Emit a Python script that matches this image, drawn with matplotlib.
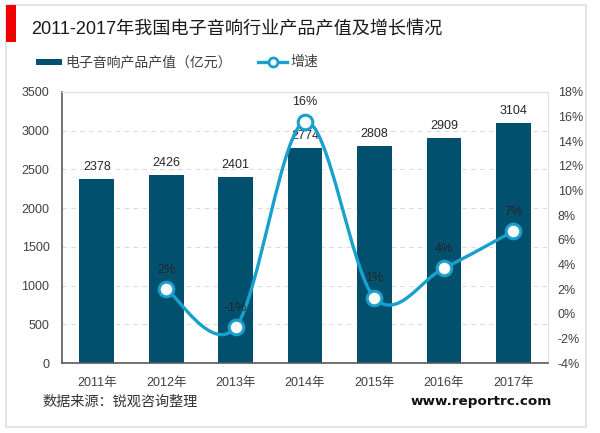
import matplotlib.pyplot as plt
from matplotlib.patches import Rectangle, PathPatch
from matplotlib.path import Path

# -------------------------
# DATA
# -------------------------

YEARS = ["2011年","2012年","2013年","2014年","2015年","2016年","2017年"]
OUTPUT = [2378,2426,2401,2774,2808,2909,3104]
GROWTH = [2.0,-1.1,15.6,1.3,3.7,6.7]
GROWTH_LABELS = ["2%","-1%","16%","1%","4%","7%"]
LEFT_TICKS = [0,500,1000,1500,2000,2500,3000,3500]
RIGHT_TICKS = [-4,-2,0,2,4,6,8,10,12,14,16,18]

W = 600
H = 433

plt.rcParams["font.family"] = ["Liberation Sans","Noto Sans CJK SC","DejaVu Sans"]

# -------------------------
# SMOOTH LINE
# -------------------------

def smooth_path(xs, ys):
    verts = [(xs[0],ys[0])]
    codes = [Path.MOVETO]
    n = len(xs)
    for i in range(n-1):
        x0,y0 = (xs[i-1],ys[i-1]) if i>0 else (xs[i],ys[i])
        x3,y3 = (xs[i+2],ys[i+2]) if i+2<n else (xs[i+1],ys[i+1])
        c1 = (xs[i]+(xs[i+1]-x0)/6, ys[i]+(ys[i+1]-y0)/6)
        c2 = (xs[i+1]-(x3-xs[i])/6, ys[i+1]-(y3-ys[i])/6)
        verts += [c1,c2,(xs[i+1],ys[i+1])]
        codes += [Path.CURVE4,Path.CURVE4,Path.CURVE4]
    return Path(verts,codes)

# -------------------------
# VISUALIZATION
# -------------------------

def draw_frame(fig):
    # outer border and red mark, in pixels from the top left
    fig.add_artist(Rectangle((6/W,1-427/H),580/W,422/H,transform=fig.transFigure,facecolor="white",edgecolor="#e4e4e4",linewidth=1.5,zorder=-2))
    fig.add_artist(Rectangle((6/W,1-42/H),10/W,37/H,transform=fig.transFigure,facecolor="#f00000",edgecolor="none",zorder=-1))
    fig.text(31/W,1-30/H,"2011-2017年我国电子音响行业产品产值及增长情况",fontsize=13.05,color="#1a1a1a",va="center")
    fig.text(42/W,1-402/H,"数据来源：锐观咨询整理",fontsize=10.2,color="#333333",va="center")
    fig.text(411/W,1-402/H,"www.reportrc.com",fontsize=9.7,fontweight="bold",family="DejaVu Sans",color="#111111",va="center")

def draw_legend(fig):
    fig.add_artist(Rectangle((36/W,1-65/H),26/W,6/H,transform=fig.transFigure,facecolor="#00506e",edgecolor="none"))
    fig.text(65/W,1-62/H,"电子音响产品产值（亿元）",fontsize=10,color="#404040",va="center")
    fig.add_artist(plt.Line2D([258/W,287/W],[1-62/H,1-62/H],transform=fig.transFigure,color="#1aa0cc",linewidth=2.4))
    fig.add_artist(plt.Line2D([272.5/W],[1-62/H],transform=fig.transFigure,linestyle="none",
        marker="o",markersize=6.5,markerfacecolor="white",markeredgecolor="#1aa0cc",markeredgewidth=2))
    fig.text(290/W,1-62/H,"增速",fontsize=10,color="#404040",va="center")

def draw_chart(fig):
    ax = fig.add_axes([62/W,1-363/H,486/W,271/H])
    ax.patch.set_alpha(0)
    xs = list(range(len(YEARS)))

    ax.bar(xs,OUTPUT,width=0.5,color="#00506e",zorder=2)
    for x,v in zip(xs,OUTPUT):
        ax.text(x,v+75,str(v),ha="center",va="bottom",fontsize=9,color="#262626",zorder=3)

    ax.set_xlim(-0.5,len(YEARS)-0.5)
    ax.set_ylim(0,3500)
    ax.set_xticks(xs,YEARS)
    ax.set_yticks(LEFT_TICKS)
    ax.tick_params(length=0,labelsize=9,labelcolor="#404040")
    ax.tick_params(axis="x",pad=10)
    ax.tick_params(axis="y",pad=9)
    ax.grid(axis="y",color="#dcdcdc",linestyle=(0,(4,4)),linewidth=0.8,zorder=1)
    ax.spines["top"].set_color("#e0e0e0")
    ax.spines["right"].set_color("#e0e0e0")
    ax.spines["left"].set_color("#595959")
    ax.spines["bottom"].set_color("#595959")
    ax.spines["left"].set_linewidth(1.2)
    ax.spines["bottom"].set_linewidth(1.2)

    ax2 = ax.twinx()
    ax2.set_ylim(-4,18)
    ax2.set_yticks(RIGHT_TICKS,[f"{t}%" for t in RIGHT_TICKS])
    ax2.tick_params(length=0,labelsize=9,labelcolor="#404040",pad=7)
    for s in ax2.spines.values():
        s.set_visible(False)

    px = xs[1:]
    ax2.add_patch(PathPatch(smooth_path(px,GROWTH),facecolor="none",edgecolor="#1aa0cc",linewidth=2.4,zorder=4))
    ax2.plot(px,GROWTH,linestyle="none",marker="o",markersize=10.5,markerfacecolor="white",
        markeredgecolor="#1aa0cc",markeredgewidth=2.2,zorder=5)
    for x,v,t in zip(px,GROWTH,GROWTH_LABELS):
        ax2.text(x,v+1.1,t,ha="center",va="bottom",fontsize=9,color="#262626",zorder=6)

if __name__=="__main__":

    fig = plt.figure(figsize=(W/100,H/100),dpi=100)
    draw_frame(fig)
    draw_legend(fig)
    draw_chart(fig)
    fig.savefig("out.png",dpi=100)
